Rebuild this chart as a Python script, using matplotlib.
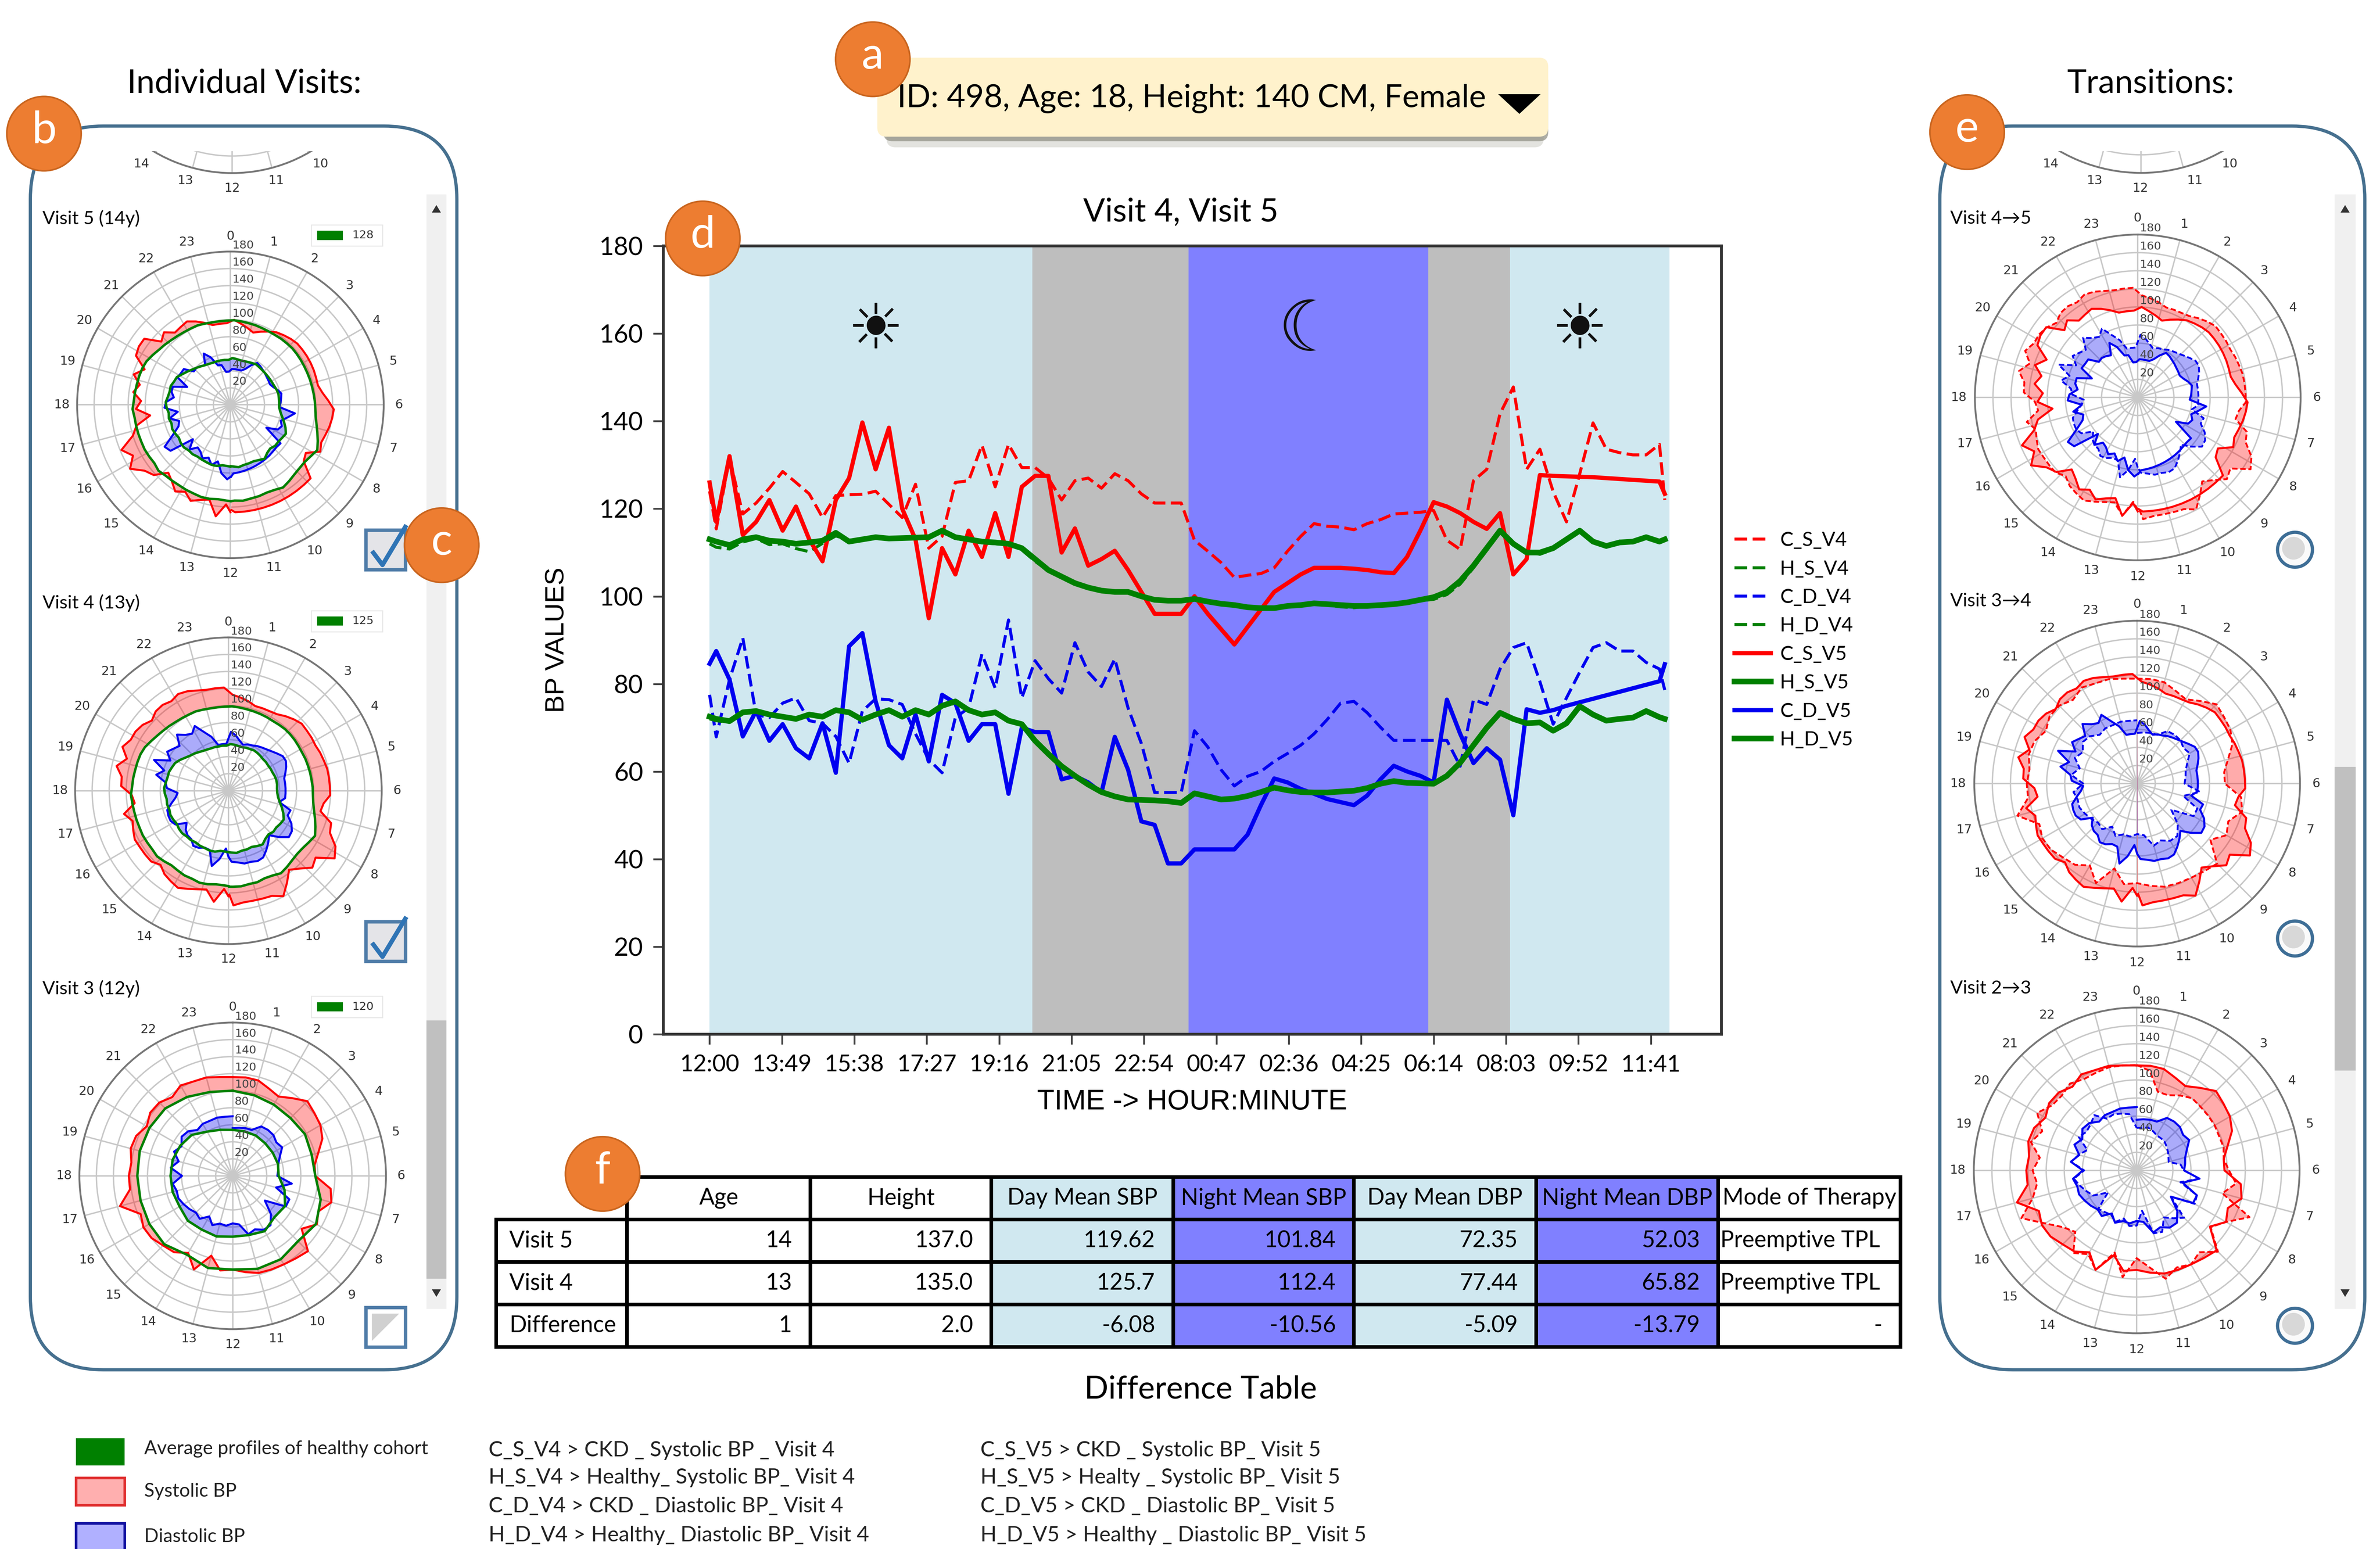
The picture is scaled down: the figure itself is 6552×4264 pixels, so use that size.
import numpy as np
import matplotlib
matplotlib.use("Agg")
import matplotlib.pyplot as plt
from matplotlib.patches import FancyBboxPatch, Rectangle, Circle, Polygon

plt.rcParams['font.family'] = ['Lato', 'DejaVu Sans']

# ---------- data ----------
tick_labels = ['12:00','13:49','15:38','17:27','19:16','21:05','22:54','00:47','02:36','04:25','06:14','08:03','09:52','11:41']
tick_step_minutes = 109
sample_minutes = np.r_[0, 10 + 20*np.arange(72), 1438]
y_ticks = [0,20,40,60,80,100,120,140,160,180]

C_S_V5 = [126,117,132,114,117,122,115,120.5,113,108,
          122,127,139.7,129,138.5,120,113,95,111,105,
          115,109,119,109,125,127.5,127.5,110,115.5,107,
          108.5,110.4,106,101,96,96,96,100,96,92.5,
          89,93,97,101,103,105,106.5,106.5,106.5,106.3,
          106,105.5,105.3,109,115,121.5,120.5,119,117,115.4,
          119,105,108.5,127.7,127.5,127.4,127.3,127.2,127,126.8,
          126.6,126.4,126.2,123.4]
C_S_V4 = [124,115.4,131.5,118.8,121.3,124.7,128.5,126,123.4,118,
          123,123.2,123.3,124,121,118,125.6,111,113.7,126,
          126.4,134.5,125,134.7,129.4,129.4,127,122,126.4,127,
          124.7,128,126.4,123.4,121.3,121.3,121.3,112.8,110.3,107.7,
          104.3,104.8,105.2,106.5,110.3,113.7,116.6,116,115.8,115.2,
          116.6,117.5,118.8,119,119.2,119.6,112.8,110.7,126.4,129,
          141.7,147.8,129,133.6,123.9,117,128,139.6,133.6,132.8,
          132.3,132.3,134.7,122]
C_D_V5 = [84.6,87.5,81,68,73.8,67,70.8,65.3,63,71,
          59.7,88.6,91.6,76,66,63,73,62.3,77.5,75.6,
          67,70.8,70.8,54.9,70,69,69,58.2,59,57.5,
          55.2,67.9,60.4,48.6,47.8,39,39,42.2,42.2,42.2,
          42.2,45.6,52.3,58.4,57.5,56,54.9,53.7,53,52.3,
          54.5,58.2,61.3,60,59,57.5,76.4,68.6,61.9,65.3,
          62.7,50,74.2,73.4,74,75,75.8,76.6,77.4,78.2,
          79,79.8,80.6,84.5]
C_D_V4 = [77.5,67.9,81,90.5,73,72.3,75.6,76.8,71.6,71,
          68,61.9,73.8,76.6,76.4,75.3,68.6,62.7,59.7,72.3,
          74.5,86.8,79,94.6,76.8,85.3,81.2,77.9,89.4,82.7,
          79.4,85.7,74.5,66.4,55.2,55.2,55.2,69.3,65.6,60.4,
          56.7,58.9,60,62.3,64.1,66,68.6,71.9,75.6,76,
          73.4,70.1,67.1,67.1,67.1,67.1,67.1,61.2,76.4,75.3,
          83.4,88.3,89.4,80.5,70.8,76.8,82.7,88.3,89.4,87.5,
          87.5,84.9,83.4,78.6]
H_S_V5 = [113,112.5,111.7,113,113.5,112.7,112.5,112,112.3,112.7,
          114.5,112.5,113,113.5,113.2,113.3,113.4,113.5,115,113.5,
          113,112.5,112.3,112,111,108.5,106,104.5,103,102,
          101.3,101,101,100,99.2,99,99,99.4,98.8,98.3,
          98,97.5,97.3,97.3,97.8,98,98.4,98.2,98,97.8,
          97.8,98,98.2,98.6,99.2,99.8,101,103.5,107,111,
          115,112,110,110,111,113,115,112.5,111.5,112.3,
          112.5,113.5,112.5,113]
H_S_V4 = [112,111.2,110.8,112.4,113.2,111.8,112,110.9,110.2,112.1,
          113.8,112.8,113,113.4,113,113.2,113.3,113.8,114.6,113.2,
          112.8,112.2,112,111.8,110.6,108,105.8,104.2,103,101.8,
          101.2,100.8,100.8,99.8,99,98.8,98.8,99.2,98.6,98.1,
          97.8,97.6,97.4,97.1,97.6,98.2,98.2,98,97.6,97.4,
          97.8,97.9,98.2,98.4,99,99.3,100.4,102.8,106.5,110.5,
          114.6,112.2,110.2,109.6,110.7,112.8,114.8,112.2,111.2,112.6,
          112.2,113.2,112.8,112.6]
H_D_V5 = [72.5,72,71.5,73.5,73.8,73,72.5,72,73,72.5,
          74,73.5,71.8,73,74,72.5,74,73,75,76,
          74,73,73.5,71.6,70.8,67,64,61.2,59,57,
          55.3,54.3,53.6,53.5,53.4,53.2,52.8,55,54.3,53.6,
          53.8,54.4,55.3,56.3,55.7,55.3,55.2,55.2,55.4,55.6,
          56.2,57.2,57.8,57.4,57.3,57.2,59,62,66,70,
          73.4,72,71,71.2,69.3,71,74.9,73,71.6,72,
          72.3,73.8,72.4,72]
H_D_V4 = [72,71.6,71.2,73.2,73.6,72.8,72.7,71.8,72.8,72.7,
          73.8,73.3,72,73.2,73.8,72.8,73.8,73.2,74.8,75.6,
          74.2,73.2,73.2,71.8,70.6,67.4,63.8,61,59.2,57.2,
          55.5,54.5,53.8,53.7,53.2,53.4,53,54.8,54.5,53.8,
          53.6,54.6,55.1,56.1,55.9,55.5,55,55.4,55.2,55.8,
          56,57,57.6,57.6,57.1,57.4,58.8,61.8,65.8,69.8,
          73.2,72.2,70.8,71.4,69.5,71.2,74.7,73.2,71.4,72.2,
          72.1,73.6,72.6,72.2]

# half-hourly readings from the polar panels, starting at hour 0
half_hours = np.arange(49)/2
C_S_V3 = [116,116.6,116,111,107.6,115,124,121,119,114,104,97,
          97,116,120,109,114,102,125,122,120,119,118,114,
          110,112,97,119,104.5,113,115.6,120,121,117,137,121.6,
          122,120,124,122.7,116.5,122,121.8,116.6,122.5,120,119.6,117,116]
C_D_V3 = [56,57,58,58.4,67,68,67.7,64.6,67,60,55.5,54,
          52.4,70,52.7,72,72,47.6,63.5,73,73,68,71,57.5,
          55.8,59,58,62.6,55,63.5,61,64,66.5,69,68,71,
          59.5,73.4,65.7,74.5,69.4,75.6,74,68,70.5,70,70.8,70,70]
C_S_V2 = [116.5,111,90,90,95.6,100.6,99.6,99.5,99.5,98.6,99.4,97,
          102,110.8,98,135,114,103,127,114,120,116,124,108,
          97,119,94,119,107,115,96,103,117,138,119,111,
          115,108,121,113,127,118,117,121,116.5,117,118,117,116.5]
C_D_V2 = [47,47.5,49,47,44.6,44.5,44,42,40,38,36.6,49,
          52,70,50,72,74,48,74,66.7,60,73.6,72,45,
          61,62,55,61.7,56.6,58,60,40,55.5,60,65,70,
          58,73,66.5,59,74,70,72,77,66,67,65,62.7,47]
# hourly healthy profiles for visit 3
whole_hours = np.arange(25)
H_S_V3 = [100,98,96.6,96,98,96,97,107,113,108.5,113,113,110,112,107,113.6,113,112,112,113,112.8,112,107,102,100]
H_D_V3 = [54,54,54.6,54,54.3,55,54,63,71,69,75,72,71.4,73.6,72.8,74.5,72,73,73,73,71,68,60,56,54]

day_spans = [(0,486),(1205,1445)]
dusk_spans = [(486,721),(1082,1205)]
night_span = (721,1082)

table_rows = [['','Age','Height','Day Mean SBP','Night Mean SBP','Day Mean DBP','Night Mean DBP','Mode of Therapy'],
              ['Visit 5','14','137.0','119.62','101.84','72.35','52.03','Preemptive TPL'],
              ['Visit 4','13','135.0','125.7','112.4','77.44','65.82','Preemptive TPL'],
              ['Difference','1','2.0','-6.08','-10.56','-5.09','-13.79','-']]
col_edges = [327,413,534,653,773,892,1012,1132,1252]

left_charts = [('Visit 5 (14y)','128',151.8,266.6,C_S_V5,H_S_V5,C_D_V5,H_D_V5,144,155),
               ('Visit 4 (13y)','125',150.5,520.7,C_S_V4,H_S_V4,C_D_V4,H_D_V4,397,409),
               ('Visit 3 (12y)','120',153.3,774.3,C_S_V3,H_S_V3,C_D_V3,H_D_V3,651,663)]

COL_DAY, COL_DUSK, COL_NIGHT = '#D0E8F0', '#BEBEBE', '#8080FF'
RED, GREEN, BLUE = '#FF0000', '#008000', '#0000F0'
W, H = 1568.0, 1020.0

fig = plt.figure(figsize=(16.38, 10.66), dpi=400, facecolor='white')

def px_axes(x0, y0, x1, y1, **kw):
    return fig.add_axes([x0/W, 1-y1/H, (x1-x0)/W, (y1-y0)/H], **kw)

# ---------- main line chart ----------
ax = px_axes(437, 162, 1134, 681)
x_of_0, px_per_min = 467.5, 47.7/tick_step_minutes
ax.set_xlim((437-x_of_0)/px_per_min, (1134-x_of_0)/px_per_min)
ax.set_ylim(0, 180)
for a, b in day_spans:
    ax.axvspan(a, b, color=COL_DAY, lw=0)
for a, b in dusk_spans:
    ax.axvspan(a, b, color=COL_DUSK, lw=0)
ax.axvspan(*night_span, color=COL_NIGHT, lw=0)
dash = (0, (4.2, 1.8))
series = [('C_S_V4',C_S_V4,RED,1.5,dash),('H_S_V4',H_S_V4,GREEN,1.5,dash),
          ('C_D_V4',C_D_V4,BLUE,1.5,dash),('H_D_V4',H_D_V4,GREEN,1.5,dash),
          ('C_S_V5',C_S_V5,RED,2.1,'-'),('H_S_V5',H_S_V5,GREEN,2.8,'-'),
          ('C_D_V5',C_D_V5,BLUE,2.1,'-'),('H_D_V5',H_D_V5,GREEN,2.8,'-')]
for name, vals, c, lw, ls in series:
    ax.plot(sample_minutes, vals, color=c, lw=lw, ls=ls, label=name)
ax.set_xticks(np.arange(len(tick_labels))*tick_step_minutes)
ax.set_xticklabels(tick_labels, fontsize=11.5)
ax.set_yticks(y_ticks)
ax.set_yticklabels([str(v) for v in y_ticks], fontsize=12.5)
ax.tick_params(axis='both', length=5, width=0.9, color='#444444', pad=5)
for s in ax.spines.values():
    s.set_linewidth(1.4)
    s.set_color('#333333')
ax.set_xlabel('TIME -> HOUR:MINUTE', fontsize=14.1, family=['Liberation Sans'], labelpad=6.5)
ax.set_ylabel('BP VALUES', fontsize=13.2, family=['Liberation Sans'], labelpad=15)
ax.legend(loc='upper left', bbox_to_anchor=(1.0125, 0.6377), frameon=False, fontsize=9.8,
          handlelength=1.84, labelspacing=0.54, borderpad=0, handletextpad=0.46, borderaxespad=0)
for tx, glyph, fs in [(250, '\u2600', 31), (903, '\u263E', 35), (1310, '\u2600', 31)]:
    ax.text(tx, 160.5, glyph, fontsize=fs, ha='center', va='center',
            family=['DejaVu Sans'], color='#111111')

# ---------- polar panels ----------
def base_polar(cx, cy, R, labels=True):
    a = px_axes(cx-R, cy-R, cx+R, cy+R, projection='polar')
    a.set_theta_zero_location('N')
    a.set_theta_direction(-1)
    a.set_ylim(0, 180)
    a.set_xticks(np.deg2rad(np.arange(0, 360, 15)))
    a.set_xticklabels([])
    a.set_yticks(np.arange(20, 181, 20))
    a.set_yticklabels([])
    a.grid(True, color='#c8c8c8', lw=0.7)
    a.spines['polar'].set_color('#777777')
    a.spines['polar'].set_linewidth(0.9)
    a.set_facecolor('none')
    a.tick_params(length=0)
    if labels:
        for hr in range(24):
            a.text(np.deg2rad(15*hr), 198, str(hr), fontsize=6.2, ha='center', va='center',
                   color='#333333', family=['DejaVu Sans'], clip_on=False)
        for v in range(20, 181, 20):
            a.annotate(str(v), (0, v), xytext=(1.0, 3.0), textcoords='offset points', fontsize=5.6,
                       ha='left', va='center', color='#444444', family=['DejaVu Sans'],
                       annotation_clip=False, zorder=6)
    return a

def angle(hours):
    return np.deg2rad(15*np.asarray(hours, dtype=float))

def thetas(vals):
    if len(vals) == len(sample_minutes):
        return angle(12 + sample_minutes/60.0)
    if len(vals) == len(half_hours):
        return angle(half_hours)
    return angle(whole_hours)

def band(a, v1, v2, color, alpha=0.33):
    t1, t2 = thetas(v1), thetas(v2)
    a.fill(np.r_[t1, t2[::-1]], np.r_[v1, v2[::-1]], color=color, alpha=alpha, lw=0, zorder=2)

for title, num, cx, cy, cs, hs, cd, hd, ty, ly in left_charts:
    a = base_polar(cx, cy, 101)
    band(a, cs, hs, RED)
    band(a, cd, hd, BLUE)
    a.plot(thetas(cs), cs, color=RED, lw=1.0, zorder=3)
    a.plot(thetas(cd), cd, color=BLUE, lw=1.0, zorder=3)
    a.plot(thetas(hs), hs, color=GREEN, lw=1.2, zorder=4)
    a.plot(thetas(hd), hd, color=GREEN, lw=1.2, zorder=4)

right_charts = [('Visit 4\u21925', 1408.4, 261.7, C_S_V4, C_S_V5, C_D_V4, C_D_V5, 144),
                ('Visit 3\u21924', 1408.0, 516.0, C_S_V3, C_S_V4, C_D_V3, C_D_V4, 396),
                ('Visit 2\u21923', 1407.7, 770.7, C_S_V2, C_S_V3, C_D_V2, C_D_V3, 651)]
for title, cx, cy, s_old, s_new, d_old, d_new, ty in right_charts:
    a = base_polar(cx, cy, 107.3)
    band(a, s_old, s_new, RED)
    band(a, d_old, d_new, BLUE)
    a.plot(thetas(s_old), s_old, color=RED, lw=0.9, ls=(0, (3, 1.5)), zorder=3)
    a.plot(thetas(s_new), s_new, color=RED, lw=1.0, zorder=3)
    a.plot(thetas(d_old), d_old, color=BLUE, lw=0.9, ls=(0, (3, 1.5)), zorder=3)
    a.plot(thetas(d_new), d_new, color=BLUE, lw=1.0, zorder=3)

base_polar(153, 13, 101, labels=False)
base_polar(1410.6, 6.6, 107.3, labels=False)

# ---------- table ----------
tax = px_axes(col_edges[0], 775, col_edges[-1], 887)
tax.axis('off')
tbl = tax.table(cellText=table_rows, bbox=[0, 0, 1, 1],
                colWidths=list(np.diff(col_edges)/(col_edges[-1]-col_edges[0])))
tbl.auto_set_font_size(False)
tbl.set_fontsize(11.3)
for (r, c), cell in tbl.get_celld().items():
    cell.set_edgecolor('black')
    cell.set_linewidth(1.8)
    cell.PAD = 0.1
    if c in (3, 5):
        cell.set_facecolor(COL_DAY)
    elif c in (4, 6):
        cell.set_facecolor(COL_NIGHT)
    txt = cell.get_text()
    if r == 0:
        txt.set_ha('center')
    elif c == 0:
        txt.set_ha('left')
    elif c == 7 and r < 3:
        txt.set_ha('left')
        cell.PAD = 0.012
    else:
        txt.set_ha('right')
    if r == 0 and c == 0:
        cell.visible_edges = 'BR'

# ---------- overlay (panels, text, widgets, badges) ----------
ov = fig.add_axes([0, 0, 1, 1], zorder=10)
ov.set_xlim(0, W)
ov.set_ylim(H, 0)
ov.axis('off')
ov.patch.set_alpha(0)

ov.add_patch(Rectangle((10, 0), 285, 99.6, fc='white', ec='none', zorder=1))
ov.add_patch(Rectangle((1268, 0), 285, 99.6, fc='white', ec='none', zorder=1))

for x0, x1 in [(20, 301), (1278, 1558)]:
    ov.add_patch(FancyBboxPatch((x0+48, 83+48), x1-x0-96, 902-83-96,
                 boxstyle='round,pad=48,rounding_size=48', fc='none', ec='#46708F', lw=1.6, zorder=2))

ov.text(161, 55, 'Individual Visits:', fontsize=16.3, ha='center', va='center', zorder=3)
ov.text(1417, 55, 'Transitions:', fontsize=16.3, ha='center', va='center', zorder=3)
ov.text(778, 140, 'Visit 4, Visit 5', fontsize=16, ha='center', va='center', zorder=3)

for xs in [(93,122,153,182,211), (1351,1380,1410,1446,1469)]:
    for x, y, t in zip(xs, (108,119,124,119,108), ('14','13','12','11','10')):
        ov.text(x, y, t, fontsize=6.2, ha='center', va='center', color='#333333',
                family=['DejaVu Sans'], zorder=3)

for title, num, cx, cy, cs, hs, cd, hd, ty, ly in left_charts:
    ov.text(28, ty, title, fontsize=9.2, ha='left', va='center', zorder=3)
    ov.add_patch(Rectangle((205, ly-7), 47, 14, fc='white', ec='#e8e8e8', lw=0.5, zorder=3))
    ov.add_patch(Rectangle((209, ly-3), 17, 6, fc=GREEN, ec='none', zorder=4))
    ov.text(232, ly, num, fontsize=5.6, ha='left', va='center', color='#333333',
            family=['DejaVu Sans'], zorder=4)
for title, cx, cy, a1, a2, a3, a4, ty in right_charts:
    ov.text(1285, ty, title, fontsize=9.2, ha='left', va='center', zorder=3)

# scrollbars
for x0, x1, t0, t1, ac in [(281, 294, 672, 842, 287.5), (1538, 1552, 505, 705, 1545)]:
    ov.add_patch(Rectangle((x0, 128), x1-x0, 734, fc='#F0F0F0', ec='none', zorder=3))
    ov.add_patch(Rectangle((x0, t0), x1-x0, t1-t0, fc='#C0C0C0', ec='none', zorder=3))
    ov.add_patch(Polygon([(ac-3, 140), (ac+3, 140), (ac, 135)], fc='#333333', ec='none', zorder=4))
    ov.add_patch(Polygon([(ac-3, 849), (ac+3, 849), (ac, 854)], fc='#333333', ec='none', zorder=4))

# check boxes
for x, y, checked in [(241, 349, True), (241, 607, True), (241, 861, False)]:
    ov.add_patch(Rectangle((x, y), 26, 26, fc='#E4E4E8' if checked else 'white', ec='#4F7CA8', lw=1.7, zorder=5))
    if checked:
        ov.plot([x+5, x+11, x+26], [y+15, y+23, y-2], color='#2F74B5', lw=2.2, zorder=6)
    else:
        ov.add_patch(Polygon([(x+4, y+4), (x+22, y+4), (x+4, y+22)], fc='#D0D0D0', ec='none', zorder=6))
for y in (362, 618, 873):
    ov.add_patch(Circle((1512, y), 11.5, fc='#FAFAFA', ec='#3E6E96', lw=1.6, zorder=5))
    ov.add_patch(Circle((1511, y-1), 7.5, fc='#D8D8D8', ec='none', zorder=6))

# dropdown
ov.add_patch(FancyBboxPatch((584, 50), 433, 47, boxstyle='round,pad=0,rounding_size=6',
                            fc='#C8C8C0', ec='none', alpha=0.5, zorder=3))
ov.add_patch(FancyBboxPatch((582, 47), 438, 46, boxstyle='round,pad=0,rounding_size=6',
                            fc='#8C8C80', ec='none', alpha=0.7, zorder=3))
ov.add_patch(FancyBboxPatch((578, 38), 442, 52, boxstyle='round,pad=0,rounding_size=6',
                            fc='#FFF2CC', ec='none', zorder=4))
ov.text(591, 65, 'ID: 498, Age: 18, Height: 140 CM, Female', fontsize=15.9, ha='left', va='center', zorder=5)
ov.add_patch(Polygon([(987, 62), (1015, 62), (1001, 75)], fc='black', ec='none', zorder=5))

# table title and key
ov.text(791, 915, 'Difference Table', fontsize=15.7, ha='center', va='center', zorder=3)
ov.add_patch(Rectangle((50, 947), 32, 18, fc=GREEN, ec='none'))
ov.add_patch(Rectangle((50, 973), 32, 18, fc='#FFAFAF', ec='#E03030', lw=1.3))
ov.add_patch(Rectangle((50, 1003), 32, 18, fc='#B0B0FF', ec='#1010A0', lw=1.3))
for y, t in [(954, 'Average profiles of healthy cohort'), (982, 'Systolic BP'), (1012, 'Diastolic BP')]:
    ov.text(95, y, t, fontsize=9.4, ha='left', va='center', color='#222222')
for y, t in [(955, 'C_S_V4 > CKD _ Systolic BP _ Visit 4'), (973, 'H_S_V4 > Healthy_ Systolic BP_ Visit 4'),
             (992, 'C_D_V4 > CKD _ Diastolic BP_ Visit 4'), (1011, 'H_D_V4 > Healthy_ Diastolic BP_ Visit 4')]:
    ov.text(322, y, t, fontsize=10.6, ha='left', va='center', color='#222222')
for y, t in [(955, 'C_S_V5 > CKD _ Systolic BP_ Visit 5'), (973, 'H_S_V5 > Healty _ Systolic BP_ Visit 5'),
             (992, 'C_D_V5 > CKD _ Diastolic BP_ Visit 5'), (1011, 'H_D_V5 > Healthy _ Diastolic BP_ Visit 5')]:
    ov.text(646, y, t, fontsize=10.6, ha='left', va='center', color='#222222')

# badges
for letter, x, y in [('a',575,39),('b',29,88),('c',291,359),('d',463,157),('e',1296,87),('f',397,773)]:
    ov.add_patch(Circle((x, y), 24.5, fc='#ED7D31', ec='#C9651F', lw=0.8, zorder=8))
    ov.text(x, y-2, letter, fontsize=22, color='white', ha='center', va='center', zorder=9)

fig.savefig('out.png', dpi=400, facecolor='white')
